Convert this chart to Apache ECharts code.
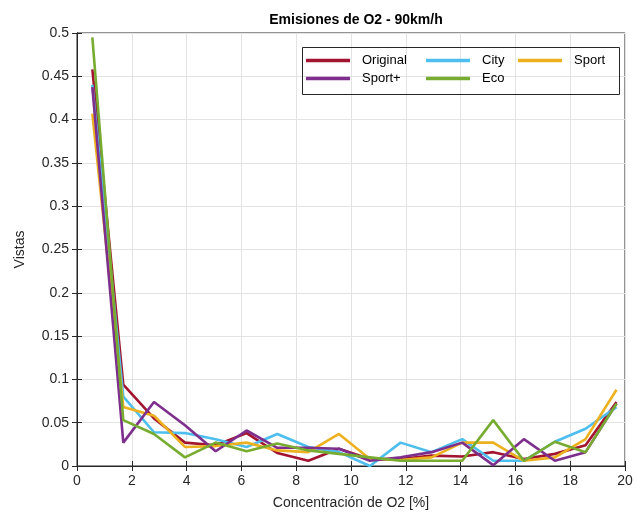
<!DOCTYPE html>
<html><head><meta charset="utf-8">
<script src="https://cdn.jsdelivr.net/npm/echarts@6/dist/echarts.min.js"></script>
<style>html,body{margin:0;padding:0;background:#fff}#c{width:638px;height:521px}</style>
</head><body><div id="c"></div>
<script>
const xCenters = [0.56, 1.69, 2.81, 3.94, 5.06, 6.19, 7.31, 8.44, 9.56, 10.69, 11.81, 12.94, 14.06, 15.19, 16.31, 17.44, 18.56, 19.69];
const original = [0.458, 0.094, 0.055, 0.027, 0.024, 0.038, 0.015, 0.006, 0.020, 0.008, 0.008, 0.012, 0.011, 0.016, 0.008, 0.014, 0.024, 0.074];
const city     = [0.440, 0.080, 0.039, 0.038, 0.031, 0.022, 0.037, 0.022, 0.016, 0.000, 0.027, 0.016, 0.031, 0.006, 0.006, 0.028, 0.043, 0.068];
const sport    = [0.407, 0.068, 0.058, 0.022, 0.023, 0.027, 0.018, 0.016, 0.037, 0.008, 0.007, 0.010, 0.027, 0.027, 0.006, 0.010, 0.031, 0.088];
const sportPlus= [0.4375, 0.027, 0.074, 0.047, 0.017, 0.041, 0.021, 0.021, 0.020, 0.006, 0.010, 0.016, 0.027, 0.001, 0.031, 0.006, 0.016, 0.072];
const eco      = [0.495, 0.053, 0.037, 0.010, 0.027, 0.017, 0.026, 0.018, 0.014, 0.010, 0.006, 0.006, 0.006, 0.053, 0.006, 0.028, 0.016, 0.072];
const seriesNames = ['Original', 'City', 'Sport', 'Sport+', 'Eco'];
const seriesColors = ['#A2142F', '#4DBEEE', '#EDB120', '#7E2F8E', '#77AC30'];
const seriesData = [original, city, sport, sportPlus, eco];

const FONT = '"Liberation Sans", Arial, Helvetica, sans-serif';
const AX = '#262626';
const chart = echarts.init(document.getElementById('c'), null, {renderer: 'canvas'});

const series = seriesNames.map((n, i) => ({
  name: n, type: 'line', symbol: 'none', xAxisIndex: 0, yAxisIndex: 0,
  data: xCenters.map((x, k) => [x, seriesData[i][k]]),
  lineStyle: {width: 2.6, color: seriesColors[i]},
  itemStyle: {color: seriesColors[i]},
  z: 3 + i
}));

const legendCommon = {
  orient: 'vertical', itemWidth: 44, itemHeight: 14, itemGap: 5,
  textStyle: {fontFamily: FONT, fontSize: 13, color: '#000', padding: [0, 0, 0, 7]},
  icon: 'path://M0,5.5 L44,5.5 L44,9 L0,9 Z', top: 54, padding: 0
};

chart.setOption({
  animation: false,
  backgroundColor: '#fff',
  title: {
    text: 'Emisiones de O2 - 90km/h', left: 351, top: 8, textAlign: 'center',
    textStyle: {fontFamily: FONT, fontSize: 14, fontWeight: 'bold', color: '#000'}
  },
  grid: {left: 77, right: 13, top: 33, bottom: 55, show: true, borderColor: AX, borderWidth: 1, backgroundColor: 'transparent'},
  legend: [
    Object.assign({}, legendCommon, {left: 306, data: ['Original', 'Sport+']}),
    Object.assign({}, legendCommon, {left: 426, data: ['City', 'Eco']}),
    Object.assign({}, legendCommon, {left: 518, data: ['Sport']})
  ],
  graphic: [{
    type: 'rect', left: 300, top: 45, z: 100, silent: true,
    shape: {width: 317, height: 47},
    style: {fill: 'none', stroke: AX, lineWidth: 1}
  }],
  xAxis: [{
    type: 'value', min: 0, max: 20, interval: 2, position: 'bottom',
    name: 'Concentración de O2 [%]', nameLocation: 'middle', nameGap: 30,
    nameTextStyle: {fontFamily: FONT, fontSize: 14, color: AX},
    axisLine: {show: true, lineStyle: {color: AX}},
    axisTick: {show: true, inside: true, length: 5, lineStyle: {color: AX}},
    axisLabel: {fontFamily: FONT, fontSize: 14, color: AX, margin: 8},
    splitLine: {show: true, lineStyle: {color: '#e3e3e3', width: 1}}
  }, {
    type: 'value', min: 0, max: 20, interval: 2, position: 'top',
    axisLine: {show: true, lineStyle: {color: AX}},
    axisTick: {show: true, inside: true, length: 5, lineStyle: {color: AX}},
    axisLabel: {show: false}, splitLine: {show: false}
  }],
  yAxis: [{
    type: 'value', min: 0, max: 0.5, interval: 0.05, position: 'left',
    name: 'Vistas', nameLocation: 'middle', nameGap: 50,
    nameTextStyle: {fontFamily: FONT, fontSize: 14, color: AX},
    axisLine: {show: true, lineStyle: {color: AX}},
    axisTick: {show: true, inside: true, length: 5, lineStyle: {color: AX}},
    axisLabel: {fontFamily: FONT, fontSize: 14, color: AX, margin: 8,
      formatter: v => String(Math.round(v * 100) / 100)},
    splitLine: {show: true, lineStyle: {color: '#e3e3e3', width: 1}}
  }, {
    type: 'value', min: 0, max: 0.5, interval: 0.05, position: 'right',
    axisLine: {show: true, lineStyle: {color: AX}},
    axisTick: {show: true, inside: true, length: 5, lineStyle: {color: AX}},
    axisLabel: {show: false}, splitLine: {show: false}
  }],
  series: series
});
</script></body></html>
